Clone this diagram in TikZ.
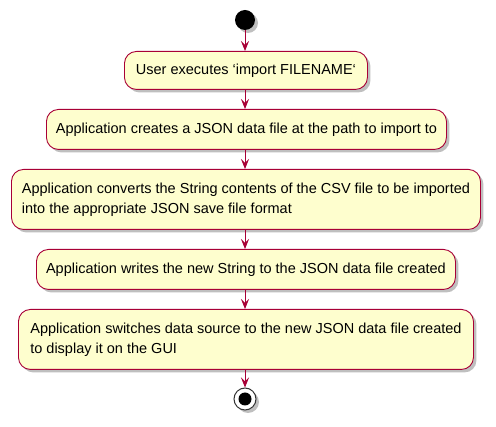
\documentclass[tikz,border=0pt]{standalone}
\usepackage{fontspec}
\setmainfont{Liberation Sans}
\usetikzlibrary{arrows.meta,shadows}
\definecolor{pumlred}{HTML}{A80036}
\definecolor{pumlfill}{HTML}{FEFECE}
\newcommand{\bq}{\symbol{"60}}
\begin{document}
\begin{tikzpicture}[x=1pt,y=-1pt,
  shad/.style={drop shadow={shadow xshift=3pt,shadow yshift=-3pt,opacity=0.25,fill=black}},
  actbox/.style={draw=pumlred,fill=pumlfill,line width=0.9pt,rounded corners=12pt,shad,
    font=\fontsize{14.5pt}{20pt}\selectfont,inner sep=0pt,anchor=north west},
  flow/.style={draw=pumlred,line width=0.9pt,-{Stealth[length=10pt,width=8pt,inset=4pt]}},
]
\useasboundingbox (0,0) rectangle (496,427);
% start
\node[circle,fill=black,minimum size=20pt,inner sep=0pt,shad] (start) at (245,20) {};
% boxes
\node[actbox,minimum width=243pt,minimum height=38pt] (b1) at (124,51) {User executes \bq import FILENAME\bq};
\node[actbox,minimum width=400pt,minimum height=40pt] (b2) at (46,109) {Application creates a JSON data file at the path to import to};
\node[actbox,minimum width=469pt,minimum height=60pt,align=left] (b3) at (11,169)
  {Application converts the String contents of the CSV file to be imported\\into the appropriate JSON save file format};
\node[actbox,minimum width=419pt,minimum height=40pt] (b4) at (36,249) {Application writes the new String to the JSON data file created};
\node[actbox,minimum width=455pt,minimum height=60pt,align=left] (b5) at (18,309)
  {Application switches data source to the new JSON data file created\\to display it on the GUI};
% end
\node[circle,draw=black!80,fill=white,line width=1pt,minimum size=22pt,inner sep=0pt,shad] (stop) at (245,399) {};
\node[circle,fill=black,minimum size=13pt,inner sep=0pt] (stopin) at (stop) {};
% connectors
\draw[flow] (start.south) -- (start.south |- b1.north);
\draw[flow] (start.south |- b1.south) -- (start.south |- b2.north);
\draw[flow] (start.south |- b2.south) -- (start.south |- b3.north);
\draw[flow] (start.south |- b3.south) -- (start.south |- b4.north);
\draw[flow] (start.south |- b4.south) -- (start.south |- b5.north);
\draw[flow] (start.south |- b5.south) -- (stop.north);
\end{tikzpicture}
\end{document}
